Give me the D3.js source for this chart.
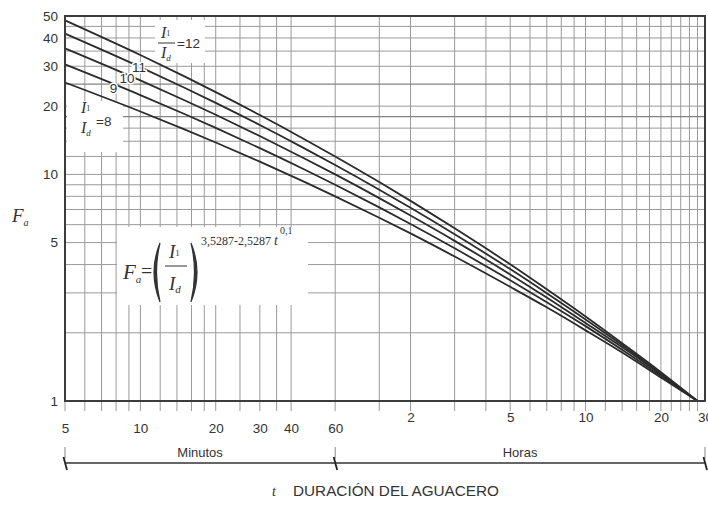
<!DOCTYPE html>
<html>
<head>
<meta charset="utf-8">
<script src="https://cdn.jsdelivr.net/npm/d3@7"></script>
<style>
  body { margin: 0; background: #fff; }
  svg { display: block; }
</style>
</head>
<body>
<svg id="chart" width="708" height="505"></svg>
<script>
// duration in minutes (5 min .. 28 h)
var tMin = [5, 10, 15, 20, 30, 45, 60, 90, 120, 180, 300, 420, 600, 900, 1200, 1680];
// Fa for each I1/Id ratio
var fa8  = [25.44, 18.95, 15.80, 13.83, 11.38,  9.29,  8, 6.44, 5.49, 4.34, 3.19, 2.59, 2.05, 1.56, 1.27, 1];
var fa9  = [30.56, 22.39, 18.48, 16.04, 13.06, 10.54,  9, 7.15, 6.04, 4.72, 3.41, 2.73, 2.14, 1.60, 1.29, 1];
var fa10 = [36.00, 25.99, 21.25, 18.33, 14.77, 11.79, 10, 7.86, 6.58, 5.09, 3.62, 2.86, 2.21, 1.64, 1.31, 1];
var fa11 = [41.77, 29.74, 24.11, 20.67, 16.51, 13.06, 11, 8.56, 7.12, 5.44, 3.82, 2.99, 2.29, 1.67, 1.32, 1];
var fa12 = [47.82, 33.64, 27.07, 23.07, 18.28, 14.34, 12, 9.25, 7.64, 5.78, 4.01, 3.11, 2.36, 1.70, 1.34, 1];

var gridX = [6, 7, 8, 9, 10, 12, 14, 16, 18, 20, 25, 30, 35, 40, 60, 90, 120, 180, 240, 300, 360,
             420, 480, 540, 600, 720, 840, 960, 1080, 1200, 1320, 1440, 1560, 1680];
var gridY = [2, 3, 4, 5, 6, 7, 8, 9, 10, 12, 14, 16, 18, 20, 25, 30, 35, 40, 45];
var darkY = [18, 25];

var minuteTicks = [5, 10, 20, 30, 40, 60];
var hourTicks = [2, 5, 10, 20, 30];       // hours
var yTicks = [1, 5, 10, 20, 30, 40, 50];

var svg = d3.select("#chart");
var pL = 65, pR = 705, pT = 16, pB = 401;

var x = d3.scaleLog().domain([5, 1800]).range([pL, pR]);
var y = d3.scaleLog().domain([1, 50]).range([pB, pT]);

var sans = "'Liberation Sans', Arial, sans-serif";
var serif = "'Liberation Serif', 'Times New Roman', serif";
var ink = "#333";

// grid
svg.append("g").selectAll("line").data(gridX).join("line")
    .attr("x1", function(d){ return x(d); }).attr("x2", function(d){ return x(d); })
    .attr("y1", pT).attr("y2", pB + 10)
    .attr("stroke", "#9a9a9a").attr("stroke-width", 1);

svg.append("g").selectAll("line").data(gridY).join("line")
    .attr("x1", pL).attr("x2", pR)
    .attr("y1", function(d){ return y(d); }).attr("y2", function(d){ return y(d); })
    .attr("stroke", function(d){ return darkY.indexOf(d) >= 0 ? "#848484" : "#9a9a9a"; })
    .attr("stroke-width", function(d){ return darkY.indexOf(d) >= 0 ? 1.2 : 1; });

// tick below left edge
svg.append("line").attr("x1", pL).attr("x2", pL).attr("y1", pB).attr("y2", pB + 10)
    .attr("stroke", "#9a9a9a");

// white boxes behind annotations
svg.append("rect").attr("x", 117).attr("y", 227).attr("width", 191).attr("height", 78).attr("fill", "#fff");
svg.append("rect").attr("x", 155).attr("y", 20).attr("width", 50).attr("height", 43).attr("fill", "#fff");
svg.append("rect").attr("x", 67).attr("y", 101).attr("width", 56).attr("height", 51).attr("fill", "#fff");

// curves
var series = [fa8, fa9, fa10, fa11, fa12];
var line = d3.line()
    .x(function(d){ return x(d[0]); })
    .y(function(d){ return y(d[1]); })
    .curve(d3.curveMonotoneX);

svg.append("g").selectAll("path").data(series).join("path")
    .attr("d", function(s){ return line(tMin.map(function(t, i){ return [t, s[i]]; })); })
    .attr("fill", "none").attr("stroke", "#2b2b2b").attr("stroke-width", 1.8);

// frame
svg.append("rect").attr("x", pL).attr("y", pT).attr("width", pR - pL).attr("height", pB - pT)
    .attr("fill", "none").attr("stroke", "#3c3c3c").attr("stroke-width", 2);

// y axis labels
var yAxis = svg.append("g").attr("transform", "translate(" + pL + ",0)")
    .call(d3.axisLeft(y).tickValues(yTicks).tickSize(0).tickPadding(7).tickFormat(d3.format("d")));
yAxis.select(".domain").remove();
yAxis.selectAll("text").attr("font-family", sans).attr("font-size", 13.5).attr("fill", ink);

// x axis: minutes row and hours row
var xMin = svg.append("g").attr("transform", "translate(0," + pB + ")")
    .call(d3.axisBottom(x).tickValues(minuteTicks).tickSize(0).tickPadding(22).tickFormat(d3.format("d")));
xMin.select(".domain").remove();
xMin.selectAll("text").attr("font-family", sans).attr("font-size", 13.5).attr("fill", ink);

var xHour = svg.append("g").attr("transform", "translate(0," + pB + ")")
    .call(d3.axisBottom(x).tickValues(hourTicks.map(function(h){ return h * 60; }))
          .tickSize(0).tickPadding(11).tickFormat(function(d){ return d / 60; }));
xHour.select(".domain").remove();
xHour.selectAll("text").attr("font-family", sans).attr("font-size", 13.5).attr("fill", ink);

// range brackets
var by = 463;
svg.append("line").attr("x1", x(5)).attr("x2", x(1800)).attr("y1", by).attr("y2", by)
    .attr("stroke", ink).attr("stroke-width", 1.6);
[5, 60, 1800].forEach(function(t){
  var bx = x(t);
  svg.append("line").attr("x1", bx).attr("x2", bx).attr("y1", by - 16).attr("y2", by - 4)
      .attr("stroke", "#888").attr("stroke-width", 1);
  svg.append("line").attr("x1", bx - 1.5).attr("x2", bx + 2).attr("y1", by - 6).attr("y2", by + 7)
      .attr("stroke", "#222").attr("stroke-width", 1.8);
});
svg.append("text").attr("x", (x(5) + x(60)) / 2).attr("y", by - 6).attr("text-anchor", "middle")
    .attr("font-family", sans).attr("font-size", 13).attr("fill", ink).text("Minutos");
svg.append("text").attr("x", (x(60) + x(1800)) / 2).attr("y", by - 6).attr("text-anchor", "middle")
    .attr("font-family", sans).attr("font-size", 13).attr("fill", ink).text("Horas");

// x title
svg.append("text").attr("x", 272).attr("y", 496).attr("font-family", serif).attr("font-style", "italic")
    .attr("font-size", 14).attr("fill", ink).text("t");
svg.append("text").attr("x", 293).attr("y", 496).attr("font-family", sans).attr("font-size", 14)
    .attr("textLength", 206).attr("lengthAdjust", "spacingAndGlyphs").attr("fill", ink)
    .text("DURACIÓN DEL AGUACERO");

// y title
var fy = svg.append("text").attr("x", 12).attr("y", 222).attr("font-family", serif)
    .attr("font-style", "italic").attr("font-size", 19).attr("fill", ink);
fy.append("tspan").text("F");
fy.append("tspan").attr("font-size", 10).attr("dy", 4).text("a");

// ratio helper: I1 over Id
function ratio(cx, cy, bar) {
  var g = svg.append("g").attr("font-family", serif).attr("font-style", "italic").attr("fill", ink);
  var t1 = g.append("text").attr("x", cx - 4).attr("y", cy - 5).attr("font-size", 16);
  t1.append("tspan").text("I");
  t1.append("tspan").attr("font-size", 8).attr("font-style", "normal").attr("dy", -2).text("1");
  var t2 = g.append("text").attr("x", cx - 4).attr("y", cy + 15).attr("font-size", 16);
  t2.append("tspan").text("I");
  t2.append("tspan").attr("font-size", 9).attr("dy", 3).text("d");
  if (bar) {
    g.append("line").attr("x1", cx - 7).attr("x2", cx + 10).attr("y1", cy).attr("y2", cy)
        .attr("stroke", ink).attr("stroke-width", 1);
  }
}

ratio(165, 43, true);
svg.append("text").attr("x", 177).attr("y", 48).attr("font-family", sans).attr("font-size", 13.5)
    .attr("fill", ink).text("=12");

ratio(85, 118, false);
svg.append("text").attr("x", 96).attr("y", 126).attr("font-family", sans).attr("font-size", 13.5)
    .attr("fill", ink).text("=8");

var midLabels = [{t: "11", x: 139, y: 72}, {t: "10", x: 127, y: 83}, {t: "9", x: 113.5, y: 93}];
svg.append("g").selectAll("text").data(midLabels).join("text")
    .attr("x", function(d){ return d.x; }).attr("y", function(d){ return d.y; })
    .attr("text-anchor", "middle").attr("font-family", sans).attr("font-size", 13.5).attr("fill", ink)
    .attr("stroke", "#fff").attr("stroke-width", 3).attr("paint-order", "stroke")
    .text(function(d){ return d.t; });

// formula
var fg = svg.append("g").attr("fill", ink);
var ff = fg.append("text").attr("x", 123).attr("y", 279).attr("font-family", serif)
    .attr("font-style", "italic").attr("font-size", 21);
ff.append("tspan").text("F");
ff.append("tspan").attr("font-size", 11).attr("dy", 4).text("a");
fg.append("text").attr("x", 141).attr("y", 278).attr("font-family", serif).attr("font-size", 20).text("=");
// parentheses
fg.append("path").attr("d", "M160,243 Q148,272 160,302 Q153,272 160,243 Z").attr("stroke", ink).attr("stroke-width", 1.2);
fg.append("path").attr("d", "M191,243 Q203,272 191,302 Q198,272 191,243 Z").attr("stroke", ink).attr("stroke-width", 1.2);
var fn = fg.append("text").attr("x", 169).attr("y", 258).attr("font-family", serif)
    .attr("font-style", "italic").attr("font-size", 19);
fn.append("tspan").text("I");
fn.append("tspan").attr("font-size", 9).attr("font-style", "normal").attr("dy", -2).text("1");
fg.append("line").attr("x1", 165).attr("x2", 187).attr("y1", 266).attr("y2", 266)
    .attr("stroke", ink).attr("stroke-width", 1);
var fd = fg.append("text").attr("x", 169).attr("y", 290).attr("font-family", serif)
    .attr("font-style", "italic").attr("font-size", 19);
fd.append("tspan").text("I");
fd.append("tspan").attr("font-size", 11).attr("dy", 3).text("d");
var fe = fg.append("text").attr("x", 201).attr("y", 245).attr("font-family", serif).attr("font-size", 12);
fe.append("tspan").text("3,5287-2,5287 ");
fe.append("tspan").attr("font-style", "italic").attr("font-size", 14).text("t");
fe.append("tspan").attr("font-size", 10).attr("dy", -11).attr("dx", 2).text("0,1");
</script>
</body>
</html>
